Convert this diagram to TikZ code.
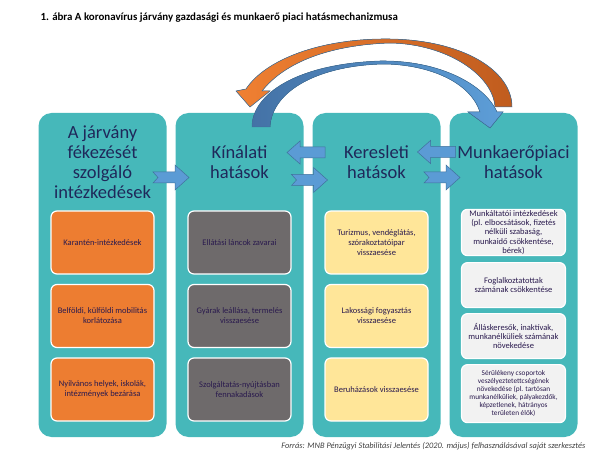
\documentclass[tikz,border=0pt]{standalone}
\usepackage{fontspec}
\setmainfont{Carlito}
\usetikzlibrary{positioning,calc}

\definecolor{colteal}{RGB}{70,184,186}
\definecolor{headtext}{RGB}{31,40,90}
\definecolor{itemtext}{RGB}{42,26,78}
\definecolor{boxorange}{RGB}{237,125,49}
\definecolor{boxgray}{RGB}{110,106,107}
\definecolor{boxyellow}{RGB}{255,230,153}
\definecolor{boxlight}{RGB}{242,242,242}
\definecolor{arrowblue}{RGB}{91,155,213}
\definecolor{arrowline}{RGB}{65,113,156}
\definecolor{curveorangeL}{RGB}{240,128,50}
\definecolor{curveorangeR}{RGB}{192,92,30}
\definecolor{curveblueL}{RGB}{68,114,166}
\definecolor{curveblueR}{RGB}{93,158,216}
\definecolor{sourcetext}{RGB}{64,64,64}

\tikzset{
  pillar/.style={fill=colteal, rounded corners=13pt, minimum width=128pt,
    minimum height=324pt, inner sep=0pt, outer sep=0pt},
  heading/.style={text=headtext, align=center, font=\fontsize{18.5}{20}\selectfont},
  entry/.style={draw=white, line width=1.2pt, rounded corners=6pt, align=center,
    minimum width=103pt, minimum height=63pt, inner sep=1pt, outer sep=0pt,
    text=itemtext, font=\fontsize{8.5}{10}\selectfont},
  orangebox/.style={entry, fill=boxorange},
  graybox/.style={entry, fill=boxgray},
  yellowbox/.style={entry, fill=boxyellow},
  lightbox/.style={entry, fill=boxlight, minimum width=104pt, minimum height=45pt,
    font=\fontsize{8.5}{9.3}\selectfont},
  blockarrow/.style={fill=arrowblue, draw=arrowline, line width=0.5pt},
  rightarr/.pic={
    \filldraw[blockarrow] (-18,-5.5) -- (4,-5.5) -- (4,-12.5) -- (18,0) -- (4,12.5)
      -- (4,5.5) -- (-18,5.5) -- (-13,0) -- cycle;},
  leftarr/.pic={
    \filldraw[blockarrow] (-19,0) -- (-6,-11.5) -- (-6,-5.5) -- (19,-5.5) -- (19,5.5)
      -- (-6,5.5) -- (-6,11.5) -- cycle;}
}

\begin{document}
\begin{tikzpicture}[x=1pt,y=-1pt]
  \useasboundingbox (0,0) rectangle (600,457);

  \node[anchor=base west, font=\bfseries\fontsize{10.9}{13}\selectfont] (title) at (37,21)
    {1. ábra A koronavírus járvány gazdasági és munkaerő piaci hatásmechanizmusa};

  % four columns
  \node[pillar]                        (intez)    at (102.5,275) {};
  \node[pillar, right=9pt of intez]    (kinalat)  {};
  \node[pillar, right=9pt of kinalat]  (kereslet) {};
  \node[pillar, right=9pt of kereslet] (munkaero) {};

  \node[heading] (intezhead)    at ([yshift=-49pt]intez.north)    {A járvány\\fékezését\\szolgáló\\intézkedések};
  \node[heading] (kinalathead)  at ([yshift=-49pt]kinalat.north)  {Kínálati\\hatások};
  \node[heading] (keresletHead) at ([yshift=-49pt]kereslet.north) {Keresleti\\hatások};
  \node[heading] (munkahead)    at ([yshift=-49pt]munkaero.north) {Munkaerőpiaci\\hatások};

  % boxes
  \node[orangebox] (intez1) at ([yshift=-129.5pt]intez.north) {Karantén-intézkedések};
  \node[orangebox] (intez2) [below=10.5pt of intez1] {Belföldi, külföldi mobilitás\\korlátozása};
  \node[orangebox] (intez3) [below=10.5pt of intez2] {Nyilvános helyek, iskolák,\\intézmények bezárása};

  \node[graybox] (kinalat1) at ([yshift=-129.5pt]kinalat.north) {Ellátási láncok zavarai};
  \node[graybox] (kinalat2) [below=10.5pt of kinalat1] {Gyárak leállása, termelés\\visszaesése};
  \node[graybox] (kinalat3) [below=10.5pt of kinalat2] {Szolgáltatás-nyújtásban\\fennakadások};

  \node[yellowbox] (kereslet1) at ([yshift=-129.5pt]kereslet.north) {Turizmus, vendéglátás,\\szórakoztatóipar\\visszaesése};
  \node[yellowbox] (kereslet2) [below=10.5pt of kereslet1] {Lakossági fogyasztás\\visszaesése};
  \node[yellowbox] (kereslet3) [below=10.5pt of kereslet2] {Beruházások visszaesése};

  \node[lightbox] (munkaero1) at ([yshift=-119.5pt]munkaero.north)
    {Munkáltatói intézkedések\\(pl. elbocsátások, fizetés\\nélküli szabaság,\\munkaidő csökkentése,\\bérek)};
  \node[lightbox] (munkaero2) [below=7pt of munkaero1] {Foglalkoztatottak\\számának csökkentése};
  \node[lightbox] (munkaero3) [below=6pt of munkaero2] {Álláskeresők, inaktívak,\\munkanélküliek számának\\növekedése};
  \node[lightbox, minimum height=58pt, font=\fontsize{7.3}{8}\selectfont] (munkaero4) [below=6pt of munkaero3]
    {Sérülékeny csoportok\\veszélyeztetettcségének\\növekedése (pl. tartósan\\munkanélküliek, pályakezdők,\\képzetlenek, hátrányos\\területen élők)};

  % arrows between the columns
  \coordinate (gap12) at ($(intez.east)!.5!(kinalat.west)$);
  \coordinate (gap23) at ($(kinalat.east)!.5!(kereslet.west)$);
  \coordinate (gap34) at ($(kereslet.east)!.5!(munkaero.west)$);
  \pic at ([yshift=97.5pt]gap12) {rightarr};
  \pic at ([xshift=-2pt,yshift=122.5pt]gap23) {leftarr};
  \pic at ([xshift=1.5pt,yshift=95pt]gap23) {rightarr};
  \pic at ([xshift=-8.5pt,yshift=123pt]gap34) {leftarr};
  \pic at ([xshift=-3pt,yshift=97.5pt]gap34) {rightarr};

  % curved arrows on top
  \filldraw[draw=arrowline, line width=0.5pt, left color=curveorangeL, right color=curveorangeR]
    (512,107) .. controls (512,70) and (462,40) .. (390,39)
    .. controls (320,38) and (265,60) .. (246,89)
    -- (236,91) -- (250,107) -- (270,91) -- (262,91)
    .. controls (285,62) and (330,45) .. (390,43)
    .. controls (447,44) and (493,75) .. (495,107) -- cycle;
  \filldraw[draw=arrowline, line width=0.5pt, left color=curveblueL, right color=curveblueR]
    (252,127) .. controls (252,95) and (295,64) .. (380,61)
    .. controls (440,60) and (485,85) .. (497,112)
    -- (503,112) -- (490,128) -- (468,112) -- (480,112)
    .. controls (470,82) and (430,65) .. (385,64)
    .. controls (320,65) and (272,90) .. (270,127) -- cycle;

  \node[anchor=base east, text=sourcetext, font=\itshape\fontsize{8.4}{9}\selectfont] (source) at (589,448)
    {Forrás: MNB Pénzügyi Stabilitási Jelentés (2020. május) felhasználásával saját szerkesztés};
\end{tikzpicture}
\end{document}
